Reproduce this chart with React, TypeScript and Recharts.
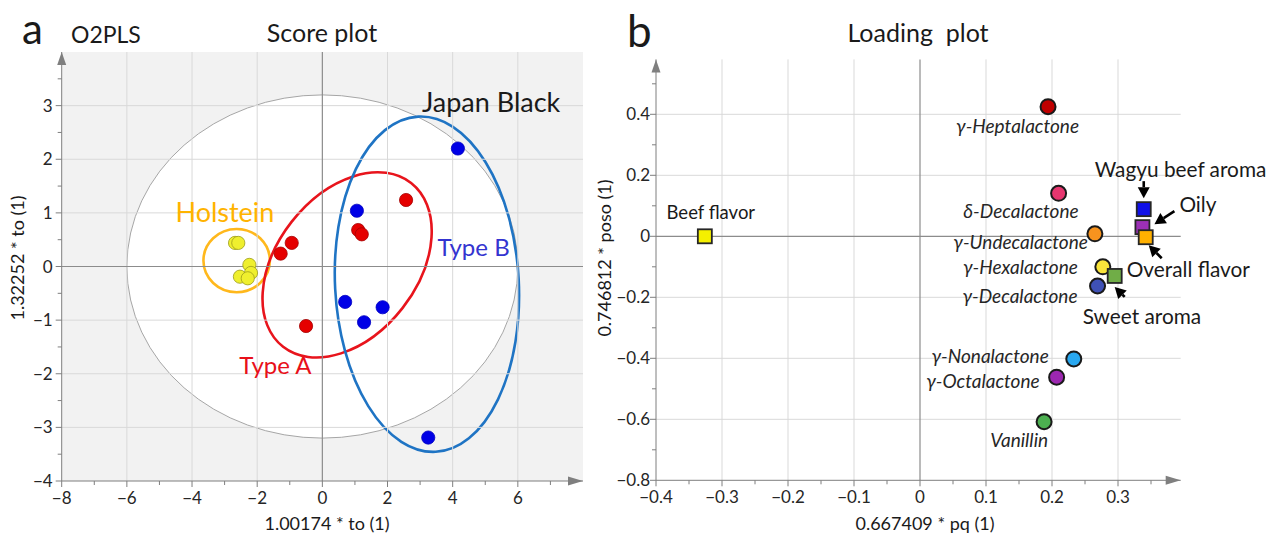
import React from "react";
import {
  ScatterChart,
  Scatter,
  XAxis,
  YAxis,
  ReferenceArea,
  ReferenceLine,
  ReferenceDot,
} from "recharts";

const FONT = "Lato, 'Open Sans', sans-serif";
const AXIS_GREY = "#7f7f7f";
const GRID_GREY = "#d9d9d9";

// ---- (a) O2PLS score plot ----
const holstein = [
  { x: -2.68, y: 0.44 },
  { x: -2.58, y: 0.44 },
  { x: -2.24, y: 0.03 },
  { x: -2.19, y: -0.12 },
  { x: -2.53, y: -0.19 },
  { x: -2.29, y: -0.22 },
];
const typeA = [
  { x: -1.28, y: 0.24 },
  { x: -0.94, y: 0.44 },
  { x: 1.1, y: 0.68 },
  { x: 1.21, y: 0.6 },
  { x: 2.57, y: 1.24 },
  { x: -0.5, y: -1.11 },
];
const typeB = [
  { x: 1.06, y: 1.04 },
  { x: 0.7, y: -0.66 },
  { x: 1.28, y: -1.04 },
  { x: 1.85, y: -0.76 },
  { x: 4.16, y: 2.2 },
  { x: 3.25, y: -3.19 },
];
const scoreXTicks = [-8, -7, -6, -5, -4, -3, -2, -1, 0, 1, 2, 3, 4, 5, 6, 7];
const scoreYTicks = [-4, -3.5, -3, -2.5, -2, -1.5, -1, -0.5, 0, 0.5, 1, 1.5, 2, 2.5, 3, 3.5];
const scoreGridX = [-6, -4, -2, 2, 4, 6];
const scoreGridY = [-3, -2, -1, 1, 2, 3];

// ellipses: centre, half extents (data units), rotation in degrees
const hotelling = { cx: 0, cy: 0, hx: 6, hy: 3.2, rot: 0 };
const holsteinEllipse = { cx: -2.63, cy: 0.11, hx: 1.02, hy: 0.59, rot: 0 };
const typeAEllipse = { cx: 0.76, cy: 0.03, hx: 3.19, hy: 1.31, rot: -52 };
const typeBEllipse = { cx: 3.21, cy: -0.33, hx: 2.82, hy: 3.13, rot: -3 };

const groupLabels = [
  { text: "Japan Black", x: 5.18, y: 3.05 },
  { text: "Holstein", x: -2.99, y: 1.0 },
  { text: "Type B", x: 4.64, y: 0.35 },
  { text: "Type A", x: -1.44, y: -1.85 },
];
const GROUP_LABEL_STYLE: Record<string, { color: string; size: number }> = {
  "Japan Black": { color: "#1a1a1a", size: 27 },
  Holstein: { color: "#ffb300", size: 27 },
  "Type B": { color: "#3434d0", size: 24 },
  "Type A": { color: "#e8101a", size: 24 },
};

// ---- (b) loading plot ----
const lactones = [
  { name: "γ-Heptalactone", x: 0.194, y: 0.425 },
  { name: "δ-Decalactone", x: 0.21, y: 0.141 },
  { name: "γ-Undecalactone", x: 0.265, y: 0.008 },
  { name: "γ-Hexalactone", x: 0.277, y: -0.1 },
  { name: "γ-Decalactone", x: 0.269, y: -0.163 },
  { name: "γ-Nonalactone", x: 0.233, y: -0.402 },
  { name: "γ-Octalactone", x: 0.207, y: -0.462 },
  { name: "Vanillin", x: 0.188, y: -0.608 },
];
const sensory = [
  { name: "Beef flavor", x: -0.326, y: 0.0 },
  { name: "Wagyu beef aroma", x: 0.339, y: 0.089 },
  { name: "Oily", x: 0.337, y: 0.03 },
  { name: "Overall flavor", x: 0.342, y: -0.003 },
  { name: "Sweet aroma", x: 0.295, y: -0.13 },
];
const loadXTicks = [-0.4, -0.35, -0.3, -0.25, -0.2, -0.15, -0.1, -0.05, 0, 0.05, 0.1, 0.15, 0.2, 0.25, 0.3, 0.35];
const loadYTicks = [-0.8, -0.7, -0.6, -0.5, -0.4, -0.3, -0.2, -0.1, 0, 0.1, 0.2, 0.3, 0.4, 0.5];
const loadGridX = [-0.3, -0.2, -0.1, 0.1, 0.2, 0.3];
const loadGridY = [-0.6, -0.4, -0.2, 0.2, 0.4];

const LACTONE_COLORS: Record<string, string> = {
  "γ-Heptalactone": "#c00000",
  "δ-Decalactone": "#e6366f",
  "γ-Undecalactone": "#f7931e",
  "γ-Hexalactone": "#f9e43b",
  "γ-Decalactone": "#3f51b5",
  "γ-Nonalactone": "#29a8f0",
  "γ-Octalactone": "#9c27b0",
  Vanillin: "#4caf50",
};
const SENSORY_COLORS: Record<string, string> = {
  "Beef flavor": "#f5f000",
  "Wagyu beef aroma": "#1010e8",
  Oily: "#9b30b5",
  "Overall flavor": "#ffb000",
  "Sweet aroma": "#70ad47",
};
// label placement relative to the marker (px): dx, dy of baseline
const LACTONE_LABEL: Record<string, [number, number]> = {
  "γ-Heptalactone": [31, 26],
  "δ-Decalactone": [20, 25],
  "γ-Undecalactone": [-7, 15],
  "γ-Hexalactone": [-25, 7],
  "γ-Decalactone": [-20, 17],
  "γ-Nonalactone": [-25, 4],
  "γ-Octalactone": [-17, 11],
  Vanillin: [4, 25],
};
const SENSORY_LABEL: Record<string, { dx: number; dy: number; anchor: "start" | "middle" }> = {
  "Beef flavor": { dx: 6, dy: -17, anchor: "middle" },
  "Wagyu beef aroma": { dx: -49, dy: -32, anchor: "start" },
  Oily: { dx: 37, dy: -15, anchor: "start" },
  "Overall flavor": { dx: -19, dy: 40, anchor: "start" },
  "Sweet aroma": { dx: -32, dy: 48, anchor: "start" },
};
const SENSORY_ARROW: Record<string, [number, number, number, number]> = {
  "Wagyu beef aroma": [0, -28, 0, -11],
  Oily: [32, -16, 12, -3],
  "Overall flavor": [16, 21, 3, 8],
  "Sweet aroma": [10, 21, 0, 11],
};

const fmt = (v: number) => (v === 0 ? "0" : v < 0 ? `\u2212${Math.abs(v)}` : `${v}`);
const isWhole = (v: number, step: number) => Math.abs(v / step - Math.round(v / step)) < 1e-6;

const xTick = (step: number) => (props: any) => {
  const { x, y, payload } = props;
  const v = payload.value as number;
  const major = isWhole(v, step);
  return (
    <g>
      <line x1={x} x2={x} y1={y} y2={y + (major ? 6 : 4)} stroke={AXIS_GREY} />
      {major && (
        <text x={x} y={y + 23} textAnchor="middle" fontSize={17} fill="#262626" fontFamily={FONT}>
          {fmt(v)}
        </text>
      )}
    </g>
  );
};

const yTick = (step: number, gap: number) => (props: any) => {
  const { x, y, payload } = props;
  const v = payload.value as number;
  const major = isWhole(v, step);
  return (
    <g>
      <line x1={x - (major ? 6 : 4)} x2={x} y1={y} y2={y} stroke={AXIS_GREY} />
      {major && (
        <text x={x - gap} y={y + 6} textAnchor="end" fontSize={17} fill="#262626" fontFamily={FONT}>
          {fmt(v)}
        </text>
      )}
    </g>
  );
};

const ellipseShape = (stroke: string, fill: string, width: number, rot: number) => (p: any) => {
  const cx = p.x + p.width / 2;
  const cy = p.y + p.height / 2;
  return (
    <ellipse
      cx={cx}
      cy={cy}
      rx={Math.abs(p.width) / 2}
      ry={Math.abs(p.height) / 2}
      fill={fill}
      stroke={stroke}
      strokeWidth={width}
      transform={`rotate(${rot} ${cx} ${cy})`}
    />
  );
};

const renderEllipse = (e: typeof hotelling, stroke: string, fill: string, width: number, key: string) => (
  <ReferenceArea
    key={key}
    x1={e.cx - e.hx}
    x2={e.cx + e.hx}
    y1={e.cy - e.hy}
    y2={e.cy + e.hy}
    ifOverflow="visible"
    shape={ellipseShape(stroke, fill, width, e.rot)}
  />
);

const upArrow = (p: any) => (
  <polygon points={`${p.cx},${p.cy} ${p.cx - 4.5},${p.cy + 13} ${p.cx + 4.5},${p.cy + 13}`} fill={AXIS_GREY} />
);
const rightArrow = (p: any) => (
  <polygon points={`${p.cx},${p.cy} ${p.cx - 15},${p.cy - 4.5} ${p.cx - 15},${p.cy + 4.5}`} fill={AXIS_GREY} />
);

const dot = (fill: string, stroke: string) => (p: any) => (
  <circle cx={p.cx} cy={p.cy} r={6.6} fill={fill} stroke={stroke} strokeWidth={0.8} />
);

function Arrow({ x1, y1, x2, y2 }: { x1: number; y1: number; x2: number; y2: number }) {
  const dx = x2 - x1;
  const dy = y2 - y1;
  const len = Math.hypot(dx, dy);
  const ux = dx / len;
  const uy = dy / len;
  const hl = 11;
  const hw = 6;
  const bx = x2 - ux * hl;
  const by = y2 - uy * hl;
  return (
    <g>
      <line x1={x1} y1={y1} x2={bx} y2={by} stroke="#000" strokeWidth={2.6} />
      <polygon
        points={`${x2},${y2} ${bx - uy * hw},${by + ux * hw} ${bx + uy * hw},${by - ux * hw}`}
        fill="#000"
      />
    </g>
  );
}

const lactoneShape = (p: any) => {
  const name = p.payload.name as string;
  const [dx, dy] = LACTONE_LABEL[name];
  return (
    <g>
      <circle cx={p.cx} cy={p.cy} r={7.5} fill={LACTONE_COLORS[name]} stroke="#1a1a1a" strokeWidth={2} />
      <text
        x={p.cx + dx}
        y={p.cy + dy}
        textAnchor="end"
        fontSize={19}
        fontStyle="italic"
        fill="#262626"
        fontFamily={FONT}
      >
        {name}
      </text>
    </g>
  );
};

const sensoryShape = (p: any) => {
  const name = p.payload.name as string;
  const lab = SENSORY_LABEL[name];
  const arr = SENSORY_ARROW[name];
  return (
    <g>
      <rect x={p.cx - 7} y={p.cy - 7} width={14} height={14} fill={SENSORY_COLORS[name]} stroke="#262626" strokeWidth={1.8} />
      <text
        x={p.cx + lab.dx}
        y={p.cy + lab.dy}
        textAnchor={lab.anchor}
        fontSize={name === "Beef flavor" ? 18.5 : 20.8}
        fill="#1a1a1a"
        fontFamily={FONT}
      >
        {name}
      </text>
      {arr && <Arrow x1={p.cx + arr[0]} y1={p.cy + arr[1]} x2={p.cx + arr[2]} y2={p.cy + arr[3]} />}
    </g>
  );
};

const groupText = (text: string) => (p: any) => {
  const st = GROUP_LABEL_STYLE[text];
  return (
    <text x={p.cx} y={p.cy} dy="0.35em" textAnchor="middle" fontSize={st.size} fill={st.color} fontFamily={FONT}>
      {text}
    </text>
  );
};

function ScorePlot() {
  return (
    <ScatterChart width={600} height={537} margin={{ top: 52, right: 17, bottom: 26, left: 21.7 }}>
      <XAxis
        type="number"
        dataKey="x"
        domain={[-8, 8]}
        ticks={scoreXTicks}
        interval={0}
        height={30}
        tickSize={0}
        tickMargin={0}
        tick={xTick(2)}
        axisLine={{ stroke: AXIS_GREY }}
      />
      <YAxis
        type="number"
        dataKey="y"
        domain={[-4, 4]}
        ticks={scoreYTicks}
        interval={0}
        width={40}
        tickSize={0}
        tickMargin={0}
        tick={yTick(1, 9)}
        axisLine={{ stroke: AXIS_GREY }}
      />
      <ReferenceArea x1={-8} x2={8} y1={-4} y2={4} fill="#f2f2f2" fillOpacity={1} stroke="none" ifOverflow="visible" />
      {renderEllipse(hotelling, "#a6a6a6", "#ffffff", 1, "hot")}
      {scoreGridX.map((v) => (
        <ReferenceLine key={`gx${v}`} x={v} stroke={GRID_GREY} strokeWidth={1} />
      ))}
      {scoreGridY.map((v) => (
        <ReferenceLine key={`gy${v}`} y={v} stroke={GRID_GREY} strokeWidth={1} />
      ))}
      <ReferenceLine x={0} stroke="#8c8c8c" strokeWidth={1.2} />
      <ReferenceLine y={0} stroke="#8c8c8c" strokeWidth={1.2} />
      {renderEllipse(holsteinEllipse, "#ffb81c", "none", 2.6, "hol")}
      {renderEllipse(typeAEllipse, "#e8141c", "none", 2.6, "ta")}
      {renderEllipse(typeBEllipse, "#1f74c4", "none", 2.6, "tb")}
      <Scatter data={typeA} isAnimationActive={false} shape={dot("#e50000", "#a30000")} />
      <Scatter data={typeB} isAnimationActive={false} shape={dot("#0000e6", "#0000c0")} />
      <Scatter data={holstein} isAnimationActive={false} shape={dot("#efef2e", "#9c9c1a")} />
      {groupLabels.map((g) => (
        <ReferenceDot key={g.text} x={g.x} y={g.y} r={0} ifOverflow="visible" shape={groupText(g.text)} />
      ))}
      <ReferenceDot x={-8} y={4} ifOverflow="visible" shape={upArrow} />
      <ReferenceDot x={8} y={-4} ifOverflow="visible" shape={rightArrow} />
    </ScatterChart>
  );
}

function LoadingPlot() {
  return (
    <ScatterChart width={666} height={537} margin={{ top: 59.4, right: 85.3, bottom: 26.7, left: 16 }}>
      <XAxis
        type="number"
        dataKey="x"
        domain={[-0.4, 0.395]}
        ticks={loadXTicks}
        interval={0}
        height={30}
        tickSize={0}
        tickMargin={0}
        tick={xTick(0.1)}
        axisLine={{ stroke: AXIS_GREY }}
      />
      <YAxis
        type="number"
        dataKey="y"
        domain={[-0.8, 0.58]}
        ticks={loadYTicks}
        interval={0}
        width={40}
        tickSize={0}
        tickMargin={0}
        tick={yTick(0.2, 6)}
        axisLine={{ stroke: AXIS_GREY }}
      />
      {loadGridX.map((v) => (
        <ReferenceLine key={`gx${v}`} x={v} stroke={GRID_GREY} strokeWidth={1} />
      ))}
      {loadGridY.map((v) => (
        <ReferenceLine key={`gy${v}`} y={v} stroke={GRID_GREY} strokeWidth={1} />
      ))}
      <ReferenceLine x={0} stroke="#8c8c8c" strokeWidth={1.2} />
      <ReferenceLine y={0} stroke="#8c8c8c" strokeWidth={1.2} />
      <Scatter data={lactones} isAnimationActive={false} shape={lactoneShape} />
      <Scatter data={sensory} isAnimationActive={false} shape={sensoryShape} />
      <ReferenceDot x={-0.4} y={0.58} ifOverflow="visible" shape={upArrow} />
      <ReferenceDot x={0.395} y={-0.8} ifOverflow="visible" shape={rightArrow} />
    </ScatterChart>
  );
}

export default function App() {
  const t = { fontFamily: FONT, fill: "#1a1a1a" };
  return (
    <div style={{ position: "absolute", left: 0, top: 0, width: 1266, height: 537, background: "#fff", overflow: "hidden" }}>
      <div style={{ position: "absolute", left: 0, top: 0 }}>
        <ScorePlot />
      </div>
      <div style={{ position: "absolute", left: 600, top: 0 }}>
        <LoadingPlot />
      </div>
      <svg width={1266} height={537} style={{ position: "absolute", left: 0, top: 0, pointerEvents: "none" }}>
        <text x={22} y={44} fontSize={42} {...t}>a</text>
        <text x={71} y={43} fontSize={23} {...t}>O2PLS</text>
        <text x={322} y={42} fontSize={25} textAnchor="middle" {...t}>Score plot</text>
        <text x={327} y={530} fontSize={18} textAnchor="middle" {...t}>1.00174 * to (1)</text>
        <text transform="translate(24 258) rotate(-90)" fontSize={18} textAnchor="middle" {...t}>1.32252 * to (1)</text>
        <text x={627} y={47} fontSize={44} {...t}>b</text>
        <text x={918} y={42} fontSize={25} textAnchor="middle" style={{ whiteSpace: "pre" }} {...t}>Loading  plot</text>
        <text x={925} y={530} fontSize={18} textAnchor="middle" {...t}>0.667409 * pq (1)</text>
        <text transform="translate(611 258) rotate(-90)" fontSize={18} textAnchor="middle" {...t}>0.746812 * poso (1)</text>
      </svg>
    </div>
  );
}
